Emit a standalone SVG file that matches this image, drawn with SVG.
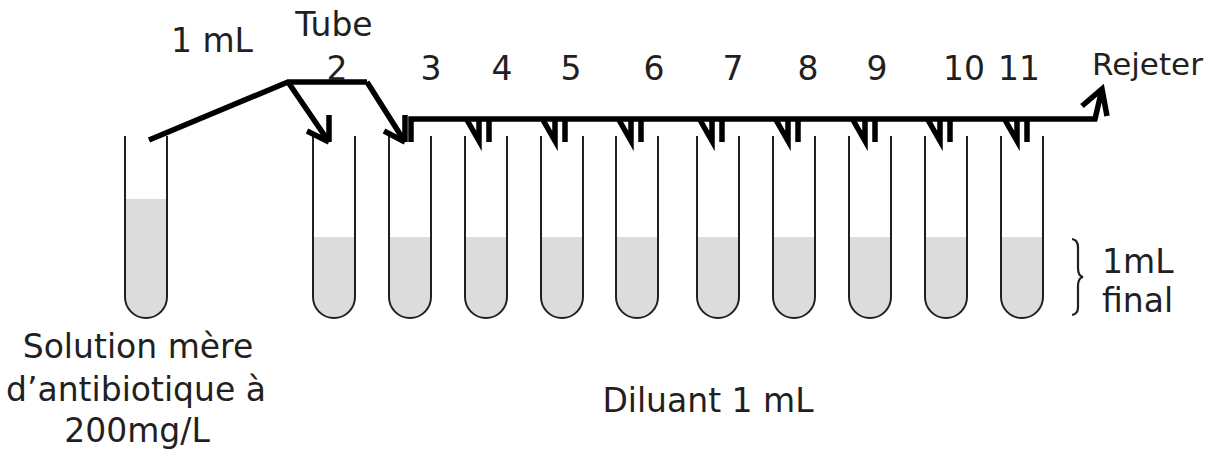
<svg xmlns="http://www.w3.org/2000/svg" width="1216" height="453" viewBox="0 0 1216 453">
<defs>
<style>
.liq{fill:#dcdcdc;stroke:none}
.tube{fill:none;stroke:#231f20;stroke-width:2}
.con{fill:none;stroke:#000;stroke-width:5.5;stroke-linecap:butt;stroke-linejoin:miter}
text{font-family:"DejaVu Sans","Noto Sans",sans-serif;font-size:33px;fill:#231f20}
.m{text-anchor:middle}
</style>
<path id="t" d="M0,136 V297 A21 21 0 0 0 42,297 V136"/>
<path id="lq" d="M0,237 H42 V297 A21 21 0 0 1 0,297 Z"/>
<path id="mk" d="M-12,120 L0,141 V119 M10,119 V142"/>
</defs>
<rect width="1216" height="453" fill="#fff"/>
<g id="tube1" transform="translate(125,0)">
<path class="liq" d="M0,199 H42 V297 A21 21 0 0 1 0,297 Z"/>
<use href="#t" class="tube"/>
</g>
<g id="tube2" transform="translate(313,0)"><use href="#lq" class="liq"/><use href="#t" class="tube"/></g>
<g id="tube3" transform="translate(389,0)"><use href="#lq" class="liq"/><use href="#t" class="tube"/></g>
<g id="tube4" transform="translate(465,0)"><use href="#lq" class="liq"/><use href="#t" class="tube"/></g>
<g id="tube5" transform="translate(541,0)"><use href="#lq" class="liq"/><use href="#t" class="tube"/></g>
<g id="tube6" transform="translate(616,0)"><use href="#lq" class="liq"/><use href="#t" class="tube"/></g>
<g id="tube7" transform="translate(697,0)"><use href="#lq" class="liq"/><use href="#t" class="tube"/></g>
<g id="tube8" transform="translate(773,0)"><use href="#lq" class="liq"/><use href="#t" class="tube"/></g>
<g id="tube9" transform="translate(849,0)"><use href="#lq" class="liq"/><use href="#t" class="tube"/></g>
<g id="tube10" transform="translate(925,0)"><use href="#lq" class="liq"/><use href="#t" class="tube"/></g>
<g id="tube11" transform="translate(1001,0)"><use href="#lq" class="liq"/><use href="#t" class="tube"/></g>
<g id="connectors" class="con">
<path d="M149,140 L288,82 H367"/>
<path d="M288,82 L329,142 M329,115 V142 M307,131 L329,142"/>
<path d="M367,82 L405,142 M405,115 V142 M384,131 L405,142"/>
<path d="M411,142 V119 H1095 L1102,89 M1082,106 L1102,89 L1107,116"/>
<use href="#mk" x="479"/>
<use href="#mk" x="555"/>
<use href="#mk" x="631"/>
<use href="#mk" x="712"/>
<use href="#mk" x="788"/>
<use href="#mk" x="865"/>
<use href="#mk" x="940"/>
<use href="#mk" x="1017"/>
</g>
<g id="brace">
<path d="M1072,239 Q1078,240 1078,247 V268 Q1078,276 1083,277 Q1078,278 1078,286 V307 Q1078,314 1072,315" fill="none" stroke="#231f20" stroke-width="2.2"/>
</g>
<g id="labels">
<text x="212" y="52" class="m">1 mL</text>
<text x="334" y="36" class="m">Tube</text>
<text x="337" y="80" class="m">2</text>
<text x="431" y="80" class="m">3</text>
<text x="502" y="80" class="m">4</text>
<text x="571" y="80" class="m">5</text>
<text x="654" y="80" class="m">6</text>
<text x="733" y="80" class="m">7</text>
<text x="808" y="80" class="m">8</text>
<text x="877" y="80" class="m">9</text>
<text x="964" y="80" class="m">10</text>
<text x="1019" y="80" class="m">11</text>
<text x="1092" y="75" style="font-size:31px">Rejeter</text>
<text x="1102" y="273">1mL</text>
<text x="1102" y="312">final</text>
<text x="138" y="358" class="m">Solution mère</text>
<text x="136" y="401" class="m">d’antibiotique à</text>
<text x="137" y="442" class="m">200mg/L</text>
<text x="708" y="412" class="m">Diluant 1 mL</text>
</g>
</svg>
